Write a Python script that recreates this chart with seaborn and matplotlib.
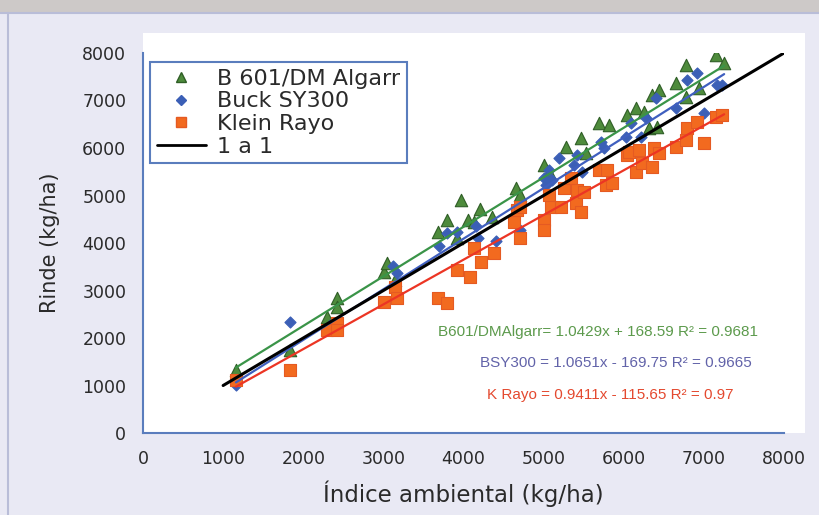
import numpy as np
import pandas as pd
import matplotlib
matplotlib.use("Agg")
import matplotlib.pyplot as plt
from matplotlib.lines import Line2D
from matplotlib.patches import Rectangle
import seaborn as sns

# Índice ambiental (x) y rinde (y) por variedad
algarr_x = [1160, 1830, 2293, 2417, 2417, 3003, 3040, 3140, 3676, 3800, 3913, 3963,
            4050, 4137, 4200, 4361, 4660, 4700, 5010, 5072, 5284, 5470, 5533, 5695,
            5820, 6044, 6156, 6256, 6318, 6418, 6355, 6442, 6654, 6780, 6780, 6941,
            7153, 7253]
algarr_y = [1330, 1750, 2440, 2840, 2650, 3390, 3580, 3220, 4230, 4480, 4100, 4900,
            4480, 4440, 4720, 4547, 5160, 5010, 5642, 5495, 6021, 6210, 5895, 6526,
            6484, 6695, 6842, 6758, 6421, 6442, 7116, 7221, 7368, 7747, 7074, 7263,
            7958, 7790]

buck_x = [1160, 1830, 2330, 2417, 3115, 3165, 3688, 3800, 3925, 4160, 4175, 4411,
          4700, 5010, 5034, 5110, 5072, 5196, 5296, 5383, 5421, 5483, 5720, 5757,
          6031, 6093, 6218, 6280, 6405, 6654, 6791, 6916, 7003, 7165, 7228]
buck_y = [1010, 2337, 2270, 2230, 3515, 3370, 3937, 4210, 4230, 4360, 4100, 4040,
          4270, 5370, 5220, 5330, 5537, 5790, 5158, 5642, 5853, 5495, 6126, 6000,
          6232, 6526, 6232, 6632, 7053, 6842, 7432, 7579, 6737, 7326, 7326]

klein_x = [1160, 1830, 2293, 2417, 2417, 3003, 3140, 3165, 3676, 3800, 3925, 4075,
           4137, 4224, 4386, 4636, 4673, 4700, 4700, 5010, 5010, 5072, 5097, 5221,
           5259, 5346, 5408, 5421, 5470, 5508, 5695, 5782, 5795, 5857, 6044, 6069,
           6156, 6193, 6231, 6355, 6380, 6442, 6654, 6780, 6791, 6916, 7003, 7153,
           7228]
klein_y = [1115, 1330, 2170, 2316, 2170, 2760, 3070, 2840, 2842, 2737, 3432, 3284,
           3895, 3600, 3790, 4442, 4695, 4105, 4760, 4484, 4274, 5010, 4758, 4758,
           5158, 5368, 4842, 5116, 4653, 5074, 5537, 5221, 5537, 5263, 5853, 5916,
           5495, 5958, 5684, 5600, 6000, 5895, 6021, 6168, 6421, 6547, 6105, 6653,
           6695]

labels = ["B 601/DM Algarr", "Buck SY300", "Klein Rayo"]
# líneas de tendencia tal como figuran en las ecuaciones del gráfico
slopes = [1.0429, 1.0651, 0.9411]
intercepts = [168.59, -169.75, -115.65]
equations = ["B601/DMAlgarr= 1.0429x + 168.59 R\u00b2 = 0.9681",
             "BSY300 = 1.0651x - 169.75 R\u00b2 = 0.9665",
             "K Rayo = 0.9411x - 115.65 R\u00b2 = 0.97"]
ticks = [0, 1000, 2000, 3000, 4000, 5000, 6000, 7000, 8000]

df = pd.concat([
    pd.DataFrame({"x": algarr_x, "y": algarr_y, "var": labels[0]}),
    pd.DataFrame({"x": buck_x, "y": buck_y, "var": labels[1]}),
    pd.DataFrame({"x": klein_x, "y": klein_y, "var": labels[2]}),
])

sns.set_style("white")
plt.rcParams['font.family'] = ['DejaVu Sans']

fill = ["#4e8b3c", "#3b5fb6", "#f26a1f"]
edge = ["#2f5e26", "#3b5fb6", "#e55a22"]
line_cols = ["#3a9448", "#3f5fbf", "#ec3524"]
text_cols = ["#5c9a4c", "#6263a9", "#e4492f"]
markers = ["^", "D", "s"]
msize = [80, 32, 70]
axis_col = "#5a7dbd"
txt_col = "#2a2a2a"

fig = plt.figure(figsize=(8.2, 5.15), dpi=100, facecolor="#e9e9f4")
fig.patches.append(Rectangle((0, 0.977), 1, 0.023, transform=fig.transFigure,
                             facecolor="#cdc9c8", edgecolor="none", zorder=-5))
fig.lines.append(Line2D([0, 1], [0.975, 0.975], transform=fig.transFigure,
                        color="#b9bdd8", lw=1.5, zorder=-4))
fig.lines.append(Line2D([0.0095, 0.0095], [0, 0.975], transform=fig.transFigure,
                        color="#b9bdd8", lw=1.5, zorder=-4))
fig.patches.append(Rectangle((0.1744, 0.1592), 0.8073, 0.7767, transform=fig.transFigure,
                             facecolor="white", edgecolor="none", zorder=-5))

ax = fig.add_axes([0.1744, 0.1592, 0.7817, 0.7379])
ax.set_facecolor("none")

for i, lab in enumerate(labels):
    sub = df[df["var"] == lab]
    sns.scatterplot(data=sub, x="x", y="y", ax=ax, marker=markers[i], s=msize[i],
                    color=fill[i], edgecolor=edge[i], linewidth=0.8, legend=False,
                    zorder=3 + i)

xr = np.array([min(algarr_x), max(algarr_x)])
for i in range(3):
    sns.lineplot(x=xr, y=slopes[i] * xr + intercepts[i], ax=ax, color=line_cols[i],
                 lw=1.6, zorder=7)
sns.lineplot(x=[1000, 8000], y=[1000, 8000], ax=ax, color="black", lw=2.2, zorder=8)

ax.set_xlim(0, 8000)
ax.set_ylim(0, 8000)
ax.set_xticks(ticks)
ax.set_yticks(ticks)
ax.tick_params(axis="both", labelsize=12.5, colors=axis_col, labelcolor=txt_col)
ax.tick_params(axis="x", direction="in", length=5, width=1.3, pad=12)
ax.tick_params(axis="y", direction="out", length=6, width=1.3, pad=6)
for s in ["top", "right"]:
    ax.spines[s].set_visible(False)
for s in ["left", "bottom"]:
    ax.spines[s].set_color(axis_col)
    ax.spines[s].set_linewidth(1.5)

ax.set_xlabel("Índice ambiental (kg/ha)", fontsize=16.5, color=txt_col, labelpad=9)
ax.set_ylabel("Rinde (kg/ha)", fontsize=15, color=txt_col, labelpad=16)

eq_pos = [(3676, 2126), (4200, 1474), (4287, 800)]
for i in range(3):
    ax.text(eq_pos[i][0], eq_pos[i][1], equations[i], color=text_cols[i], fontsize=11,
            family="Liberation Sans", va="center", ha="left")

handles = [Line2D([], [], marker=markers[i], linestyle="none", markersize=[7, 5, 7][i],
                  markerfacecolor=fill[i], markeredgecolor=edge[i]) for i in range(3)]
handles.append(Line2D([], [], color="black", lw=2))
leg = ax.legend(handles, labels + ["1 a 1"], loc="upper left",
                bbox_to_anchor=(0.011, 0.976), borderaxespad=0, fontsize=16,
                frameon=True, fancybox=False, framealpha=1, handlelength=2.2,
                handletextpad=0.5, labelspacing=0.12, borderpad=0.3)
leg.get_frame().set_edgecolor(axis_col)
leg.get_frame().set_linewidth(1.5)
for t in leg.get_texts():
    t.set_color(txt_col)

fig.savefig("out.png", dpi=100)
